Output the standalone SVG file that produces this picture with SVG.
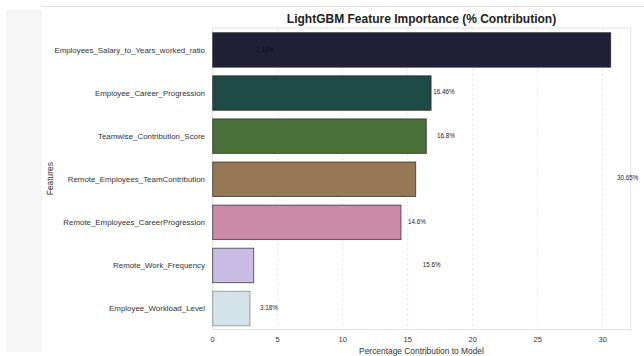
<svg xmlns="http://www.w3.org/2000/svg" width="644" height="356" viewBox="0 0 644 356">
<style>
text { font-family: "Liberation Sans", Arial, sans-serif; fill: #333; }
.title { font-size: 12px; font-weight: bold; fill: #222; text-anchor: middle; }
.ylab { font-size: 7.9px; text-anchor: end; }
.xt { font-size: 7.5px; text-anchor: middle; }
.axl { font-size: 8.4px; text-anchor: middle; }
.val { font-size: 6.3px; fill: #222; }
.grid { stroke: #e6e6e6; stroke-width: 0.8; stroke-dasharray: 3 2; }
.bar { stroke: #222; stroke-opacity: 0.75; stroke-width: 0.9; }
</style>
<rect width="644" height="356" fill="#ffffff"/>
<rect x="6" y="10" width="36" height="342" fill="#f5f5f5"/>
<line x1="41" y1="6.5" x2="644" y2="6.5" stroke="#dedede" stroke-width="1"/>
<text class="title" x="421.5" y="23">LightGBM Feature Importance (% Contribution)</text>
<g id="grid">
<line class="grid" x1="277.7" y1="28" x2="277.7" y2="329.5"/>
<line class="grid" x1="342.7" y1="28" x2="342.7" y2="329.5"/>
<line class="grid" x1="407.7" y1="28" x2="407.7" y2="329.5"/>
<line class="grid" x1="472.7" y1="28" x2="472.7" y2="329.5"/>
<line class="grid" x1="537.7" y1="28" x2="537.7" y2="329.5"/>
<line class="grid" x1="602.7" y1="28" x2="602.7" y2="329.5"/>
</g>
<rect id="frame" x="212.7" y="28" width="418" height="301.5" fill="none" stroke="#e2e2e2" stroke-width="1"/>
<g id="bar-1"><rect class="bar" x="212.7" y="32.7" width="398" height="34.5" fill="#1f2038"/><text class="ylab" x="205" y="52.6">Employees_Salary_to_Years_worked_ratio</text></g>
<g id="bar-2"><rect class="bar" x="212.7" y="75.8" width="218.4" height="34.5" fill="#1d4a45"/><text class="ylab" x="205" y="95.7">Employee_Career_Progression</text></g>
<g id="bar-3"><rect class="bar" x="212.7" y="118.9" width="213.6" height="34.5" fill="#4a7039"/><text class="ylab" x="205" y="138.8">Teamwise_Contribution_Score</text></g>
<g id="bar-4"><rect class="bar" x="212.7" y="162" width="203" height="34.5" fill="#957753"/><text class="ylab" x="205" y="181.9">Remote_Employees_TeamContribution</text></g>
<g id="bar-5"><rect class="bar" x="212.7" y="205.1" width="188.3" height="34.5" fill="#cc8aa9"/><text class="ylab" x="205" y="225">Remote_Employees_CareerProgression</text></g>
<g id="bar-6"><rect class="bar" x="212.7" y="248.2" width="41" height="34.5" fill="#cbbce6"/><text class="ylab" x="205" y="268.1">Remote_Work_Frequency</text></g>
<g id="bar-7"><rect class="bar" x="212.7" y="291.3" width="37.3" height="34.5" fill="#d2e4ea" style="stroke:#777"/><text class="ylab" x="205" y="311.2">Employee_Workload_Level</text></g>
<g id="values">
<text class="val" x="256" y="51.5" style="fill:#0d0d16">2.83%</text>
<text class="val" x="433.3" y="94.2">16.46%</text>
<text class="val" x="437" y="138.2">16.8%</text>
<text class="val" x="617" y="180.2">30.65%</text>
<text class="val" x="408" y="223.9">14.6%</text>
<text class="val" x="422.7" y="267.2">15.6%</text>
<text class="val" x="260" y="309.9">3.18%</text>
</g>
<g id="xaxis">
<text class="xt" x="212.7" y="341.8">0</text>
<text class="xt" x="277.7" y="341.8">5</text>
<text class="xt" x="342.7" y="341.8">10</text>
<text class="xt" x="407.7" y="341.8">15</text>
<text class="xt" x="472.7" y="341.8">20</text>
<text class="xt" x="537.7" y="341.8">25</text>
<text class="xt" x="602.7" y="341.8">30</text>
<text class="axl" x="421.5" y="354">Percentage Contribution to Model</text>
</g>
<text class="axl" transform="translate(52.8,178.7) rotate(-90)" x="0" y="0">Features</text>
</svg>
